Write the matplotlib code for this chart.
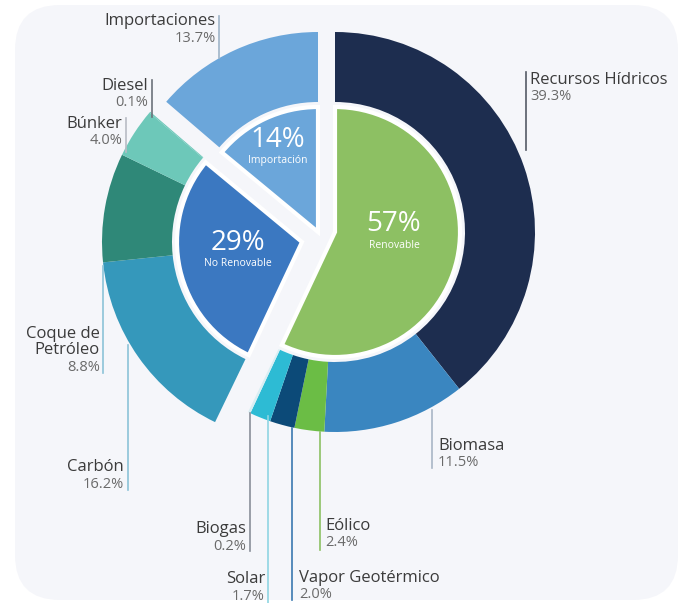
import matplotlib.pyplot as plt
from matplotlib.patches import FancyBboxPatch
import numpy as np

# data
groups = ["Renovable", "No Renovable", "Importación"]
group_pct = [57, 29, 14]
group_colors = ["#8dc063", "#3b78c1", "#6ba6da"]

renew_names = ["Recursos Hídricos", "Biomasa", "Eólico", "Vapor Geotérmico", "Solar", "Biogas"]
renew_vals = [39.3, 11.5, 2.4, 2.0, 1.7, 0.2]
renew_colors = ["#1d2d4f", "#3a86c0", "#6bbd45", "#0c4a78", "#2dbbd4", "#d9eef3"]

nonrenew_names = ["Carbón", "Coque de\nPetróleo", "Búnker", "Diesel"]
nonrenew_vals = [16.2, 8.8, 4.0, 0.1]
nonrenew_colors = ["#3598bb", "#2f8878", "#6dc8b9", "#6dc8b9"]

import_names = ["Importaciones"]
import_vals = [13.7]
import_colors = ["#6ba6da"]

W, H = 678, 603

# layout (pixel positions, image coords)
centers = [(335, 232), (302, 242), (318, 232)]
R_OUT, RING_W, R_IN = 200, 70, 125

# label: (text x, name y, ha, line x, line y0, line y1, line color)
label_pos = {
    "Recursos Hídricos": (530, 80, "left", 526, 72, 150, "#555a66"),
    "Biomasa": (438, 446, "left", 432, 410, 468, "#a9b6c6"),
    "Eólico": (325, 526, "left", 320, 432, 550, "#8cc063"),
    "Vapor Geotérmico": (299, 578, "left", 292, 428, 600, "#3a78b0"),
    "Solar": (265, 579, "right", 268, 416, 603, "#8fd5e2"),
    "Biogas": (246, 529, "right", 250, 413, 551, "#8a8f99"),
    "Carbón": (124, 467, "right", 128, 345, 490, "#8cc3d8"),
    "Coque de\nPetróleo": (100, 342, "right", 103, 266, 373, "#8cc3d8"),
    "Búnker": (122, 124, "right", 126, 118, 152, "#b8bcc4"),
    "Diesel": (148, 86, "right", 152, 80, 117, "#6c717a"),
    "Importaciones": (216, 21, "right", 219, 16, 58, "#9fb4c8"),
}
inner_text_pos = [(394, 224), (238, 243), (278, 140)]

plt.rcParams['font.family'] = ['Open Sans', 'DejaVu Sans']

fig = plt.figure(figsize=(W / 100, H / 100), dpi=100)
fig.patch.set_facecolor("white")
ax = fig.add_axes([0, 0, 1, 1])

card = FancyBboxPatch((15, H - 600), 663, 595, boxstyle="round,pad=0,rounding_size=45",
                      facecolor="#f5f6fa", edgecolor="none", zorder=0)
ax.add_patch(card)

outer = [renew_vals, nonrenew_vals, import_vals]
outer_colors = [renew_colors, nonrenew_colors, import_colors]
outer_names = [renew_names, nonrenew_names, import_names]
total = sum(sum(v) for v in outer)

offset = 0.0
inner_offset = 0.0
for g in range(3):
    cx, cy = centers[g]
    c = (cx, H - cy)
    fr = np.array(outer[g]) / total
    ax.pie(fr, normalize=False, startangle=90 - 360 * offset, counterclock=False,
           center=c, radius=R_OUT, colors=outer_colors[g],
           wedgeprops=dict(width=RING_W, linewidth=0))
    ax.pie([group_pct[g] / 100], normalize=False, startangle=90 - 360 * inner_offset,
           counterclock=False, center=c, radius=R_IN, colors=[group_colors[g]],
           wedgeprops=dict(linewidth=3, edgecolor="white"))
    offset += fr.sum()
    inner_offset += group_pct[g] / 100

    for name, val in zip(outer_names[g], outer[g]):
        tx, ty, ha, lx, ly0, ly1, lc = label_pos[name]
        ax.plot([lx, lx], [H - ly0, H - ly1], color=lc, lw=1.2, zorder=3)
        n_lines = name.count("\n") + 1
        ax.text(tx, H - ty, name, ha=ha, va="center", fontsize=12, color="#3b3b3b",
                linespacing=1.0, zorder=4)
        ax.text(tx, H - ty - 8.5 * (n_lines - 1) - 17, f"{val:.1f}%", ha=ha, va="center",
                fontsize=10.5, color="#6a6a6a", zorder=4)

    px, py = inner_text_pos[g]
    ax.text(px, H - py, f"{group_pct[g]}%", ha="center", va="center", fontsize=20,
            color="white", zorder=5)
    ax.text(px, H - py - 21, groups[g], ha="center", va="center", fontsize=7.5,
            color="white", zorder=5)

ax.set_xlim(0, W)
ax.set_ylim(0, H)
ax.set_aspect("equal")
ax.axis("off")

fig.savefig("out.png", dpi=100)
